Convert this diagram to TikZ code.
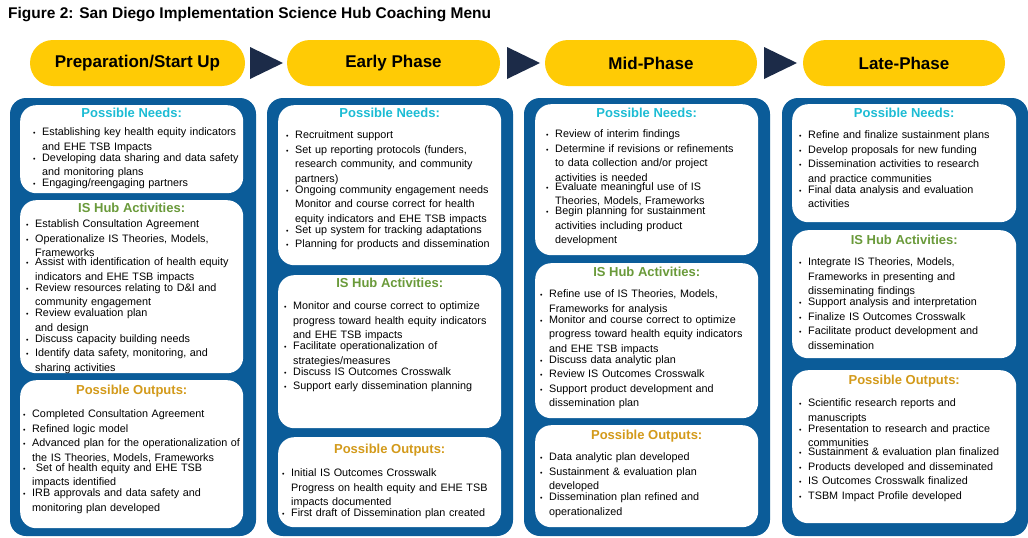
\documentclass[tikz,border=0pt]{standalone}
\usepackage{fontspec}
\setmainfont{Liberation Sans}
\usetikzlibrary{positioning}

\definecolor{hubblue}{HTML}{0B5C99}
\definecolor{pillyellow}{HTML}{FFCB05}
\definecolor{arrnavy}{HTML}{1C2B48}
\definecolor{needcyan}{HTML}{1CBCD4}
\definecolor{actgreen}{HTML}{6A9A3A}
\definecolor{outgold}{HTML}{D39A1A}

\newcommand{\bl}[1]{\par\noindent\makebox[9pt][l]{\scriptsize\textbullet}\parbox[t]{228pt}{\raggedright #1}}

\tikzset{
  phase/.style={rounded corners=23pt, fill=pillyellow, minimum height=46pt,
    font=\fontsize{17}{19}\selectfont\bfseries},
  column/.style={rounded corners=16pt, fill=hubblue},
  card/.style={rounded corners=16pt, fill=white, anchor=north west},
  head/.style={font=\fontsize{13}{15}\selectfont\bfseries, inner sep=0pt},
  body/.style={anchor=north west, inner sep=0pt, text width=240pt, align=left,
    font=\fontsize{10.8}{14.5}\selectfont}
}

\begin{document}
\begin{tikzpicture}[x=1pt,y=-1pt]
	\useasboundingbox (0,0) rectangle (1028,538);
	
	\node[anchor=west, inner sep=0pt, font=\fontsize{15.5}{17}\selectfont\bfseries] (title) at (8,15) {Figure 2: San Diego Implementation Science Hub Coaching Menu};
	
	% phases
	\node[phase, minimum width=215pt] (ph1) at (137.5,63) {Preparation/Start Up};
	\node[phase, minimum width=213pt] (ph2) at (393.5,63) {Early Phase};
	\node[phase, minimum width=212pt] (ph3) at (651,63) {Mid-Phase};
	\node[phase, minimum width=202pt] (ph4) at (904,63) {Late-Phase};
	\fill[arrnavy] (250,47) -- (283,63) -- (250,79) -- cycle;
	\fill[arrnavy] (507,47) -- (540,63) -- (507,79) -- cycle;
	\fill[arrnavy] (764,47) -- (797,63) -- (764,79) -- cycle;
	
	% columns
	\fill[column] (10,98) rectangle (256,536);
	\fill[column] (267,98) rectangle (513,536);
	\fill[column] (524,98) rectangle (770,536);
	\fill[column] (782,98) rectangle (1028,536);
	
	% column 1
	\node[card, minimum width=223pt, minimum height=88pt] (need1) at (20,105) {};
	\node[head, text=needcyan, below=3pt of need1.north] {Possible Needs:};
	\node[body] (needtxt1) at (33,121) {
		\bl{Establishing key health equity indicators\\and EHE TSB Impacts}
		\bl{Developing data sharing and data safety\\and monitoring plans}
		\bl{Engaging/reengaging partners}};
	\node[card, minimum width=223pt, minimum height=173pt] (act1) at (20,200) {};
	\node[head, text=actgreen, below=3pt of act1.north] {IS Hub Activities:};
	\node[body] (acttxt1) at (26,213) {
		\bl{Establish Consultation Agreement}
		\bl{Operationalize IS Theories, Models,\\Frameworks}
		\bl{Assist with identification of health equity\\indicators and EHE TSB impacts}
		\bl{Review resources relating to D\&I and\\community engagement}
		\bl{Review evaluation plan\\and design}
		\bl{Discuss capacity building needs}
		\bl{Identify data safety, monitoring, and\\sharing activities}};
	\node[card, minimum width=223pt, minimum height=148pt] (out1) at (20,380) {};
	\node[head, text=outgold, below=5pt of out1.north] {Possible Outputs:};
	\node[body] (outtxt1) at (23,403) {
		\bl{Completed Consultation Agreement}
		\bl{Refined logic model}
		\bl{Advanced plan for the operationalization of\\the IS Theories, Models, Frameworks}
		\bl{\ Set of health equity and EHE TSB\\impacts identified}
		\bl{IRB approvals and data safety and\\monitoring plan developed}};
	
	% column 2
	\node[card, minimum width=223pt, minimum height=160pt] (need2) at (278,105) {};
	\node[head, text=needcyan, below=3pt of need2.north] {Possible Needs:};
	\node[body] (needtxt2) at (286,124) {
		\bl{Recruitment support}
		\bl{Set up reporting protocols (funders,\\research community, and community\\partners)}
		\bl{Ongoing community engagement needs\\Monitor and course correct for health\\equity indicators and EHE TSB impacts}
		\bl{Set up system for tracking adaptations}
		\bl{Planning for products and dissemination}};
	\node[card, minimum width=223pt, minimum height=153pt] (act2) at (278,275) {};
	\node[head, text=actgreen, below=3pt of act2.north] {IS Hub Activities:};
	\node[body] (acttxt2) at (284,295) {
		\bl{Monitor and course correct to optimize\\progress toward health equity indicators\\and EHE TSB impacts}
		\bl{Facilitate operationalization of\\strategies/measures}
		\bl{Discuss IS Outcomes Crosswalk}
		\bl{Support early dissemination planning}};
	\node[card, minimum width=223pt, minimum height=90pt] (out2) at (278,437) {};
	\node[head, text=outgold, below=7pt of out2.north] {Possible Outputs:};
	\node[body] (outtxt2) at (282,462) {
		\bl{Initial IS Outcomes Crosswalk\\Progress on health equity and EHE TSB\\impacts documented}
		\bl{First draft of Dissemination plan created}};
	
	% column 3
	\node[card, minimum width=223pt, minimum height=151pt] (need3) at (535,104) {};
	\node[head, text=needcyan, below=4pt of need3.north] {Possible Needs:};
	\node[body] (needtxt3) at (546,123) {
		\bl{Review of interim findings}
		\bl{Determine if revisions or refinements\\to data collection and/or project\\activities is needed}
		\bl{Evaluate meaningful use of IS\\Theories, Models, Frameworks}
		\bl{Begin planning for sustainment\\activities including product\\development}};
	\node[card, minimum width=223pt, minimum height=155pt] (act3) at (535,263) {};
	\node[head, text=actgreen, below=4pt of act3.north] {IS Hub Activities:};
	\node[body] (acttxt3) at (540,283) {
		\bl{Refine use of IS Theories, Models,\\Frameworks for analysis}
		\bl{Monitor and course correct to optimize\\progress toward health equity indicators\\and EHE TSB impacts}
		\bl{Discuss data analytic plan}
		\bl{Review IS Outcomes Crosswalk}
		\bl{Support product development and\\dissemination plan}};
	\node[card, minimum width=223pt, minimum height=102pt] (out3) at (535,425) {};
	\node[head, text=outgold, below=5pt of out3.north] {Possible Outputs:};
	\node[body] (outtxt3) at (540,446) {
		\bl{Data analytic plan developed}
		\bl{Sustainment \& evaluation plan\\developed}
		\bl{Dissemination plan refined and\\operationalized}};
	
	% column 4
	\node[card, minimum width=224pt, minimum height=118pt] (need4) at (792,104) {};
	\node[head, text=needcyan, below=4pt of need4.north] {Possible Needs:};
	\node[body] (needtxt4) at (799,124) {
		\bl{Refine and finalize sustainment plans}
		\bl{Develop proposals for new funding}
		\bl{Dissemination activities to research\\and practice communities}
		\bl{Final data analysis and evaluation\\activities}};
	\node[card, minimum width=224pt, minimum height=128pt] (act4) at (792,230) {};
	\node[head, text=actgreen, below=5pt of act4.north] {IS Hub Activities:};
	\node[body] (acttxt4) at (799,251) {
		\bl{Integrate IS Theories, Models,\\Frameworks in presenting and\\disseminating findings}
		\bl{Support analysis and interpretation}
		\bl{Finalize IS Outcomes Crosswalk}
		\bl{Facilitate product development and\\dissemination}};
	\node[card, minimum width=224pt, minimum height=153pt] (out4) at (792,370) {};
	\node[head, text=outgold, below=5pt of out4.north] {Possible Outputs:};
	\node[body] (outtxt4) at (799,392) {
		\bl{Scientific research reports and\\manuscripts}
		\bl{Presentation to research and practice\\communities}
		\bl{Sustainment \& evaluation plan finalized}
		\bl{Products developed and disseminated}
		\bl{IS Outcomes Crosswalk finalized}
		\bl{TSBM Impact Profile developed}};
\end{tikzpicture}
\end{document}
